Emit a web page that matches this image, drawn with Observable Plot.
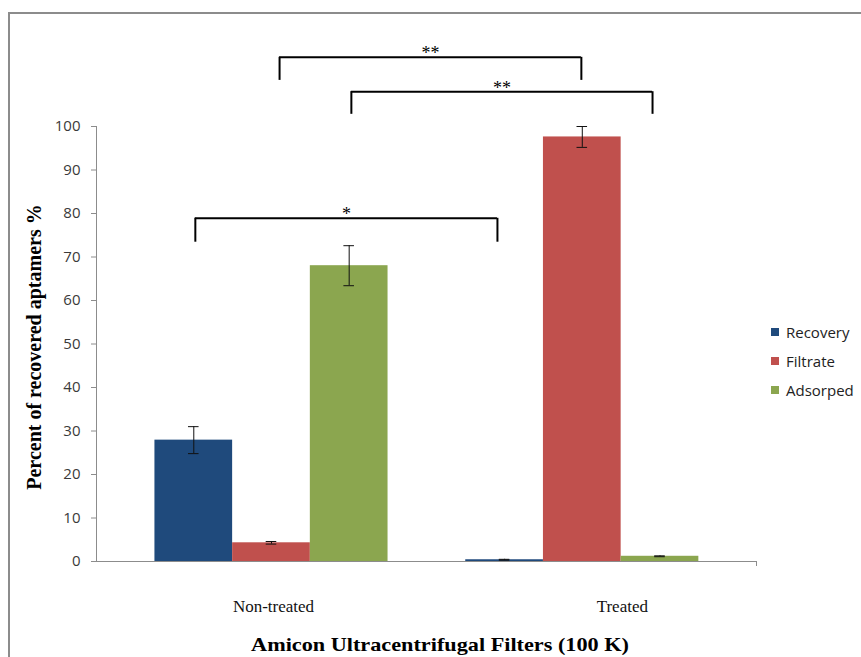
<!DOCTYPE html>
<html><head><meta charset="utf-8">
<script src="https://cdn.jsdelivr.net/npm/d3@7"></script>
<script src="https://cdn.jsdelivr.net/npm/@observablehq/plot@0.6"></script>
<style>
html,body{margin:0;padding:0;background:#fff;}
#wrap{position:relative;width:861px;height:657px;overflow:hidden;background:#fff;}
#chart{position:absolute;left:0;top:0;}
#frame{position:absolute;left:8px;top:12px;width:900px;height:700px;border-left:2px solid #8c8c8c;border-top:2px solid #8c8c8c;pointer-events:none;}
#legend{position:absolute;left:771px;top:318px;font-family:"Open Sans";font-size:15px;color:#222;}
.item{display:flex;align-items:center;height:28.7px;}
.sw{width:8px;height:8px;margin-right:7px;}
.title{position:absolute;font-family:"Liberation Serif";font-weight:bold;color:#000;white-space:nowrap;line-height:1;}
#ytitle{left:34px;top:347px;font-size:20px;transform:translate(-50%,-50%) rotate(-90deg);}
#xtitle{left:440px;top:644px;font-size:19px;transform:translate(-50%,-50%) scaleX(1.17);}
</style></head><body>
<div id="wrap"><div id="chart"></div><div id="frame"></div><div id="legend"></div>
<div id="ytitle" class="title"></div><div id="xtitle" class="title"></div></div>
<script>
// ---- data ----
const categories = ["Non-treated", "Treated"];
const series = ["Recovery", "Filtrate", "Adsorped"];
const colors = ["#1F4A7C", "#C0504D", "#8BA64F"];
const recovery = [27.9, 0.4];
const recoveryErr = [3.1, 0.1];
const filtrate = [4.3, 97.6];
const filtrateErr = [0.3, 2.4];
const adsorped = [68.0, 1.2];
const adsorpedErr = [4.6, 0.1];
const yTicks = [0, 10, 20, 30, 40, 50, 60, 70, 80, 90, 100];
const yTitle = "Percent of recovered aptamers %";
const xTitle = "Amicon Ultracentrifugal Filters (100 K)";
// significance brackets (x in category units, y in percent)
const bracketLeft = [-0.245, 0.026, 0.257];
const bracketRight = [0.727, 0.997, 1.226];
const bracketTop = [78.9, 115.9, 108.0];
const bracketBottom = [73.4, 110.6, 102.8];
const bracketLabels = ["*", "**", "**"];

// ---- build table ----
const values = {Recovery: recovery, Filtrate: filtrate, Adsorped: adsorped};
const errors = {Recovery: recoveryErr, Filtrate: filtrateErr, Adsorped: adsorpedErr};
const barW = 0.25;
const rows = [];
categories.forEach((c, i) => series.forEach((s, j) => rows.push({
  category: c, series: s, ci: i, sj: j, value: values[s][i], err: errors[s][i]
})));
const center = d => d.ci + (d.sj - 1) * barW;
const cap = 0.017;
const brackets = bracketLabels.map((l, i) => ({
  label: l, x1: bracketLeft[i], x2: bracketRight[i], top: bracketTop[i], bottom: bracketBottom[i]
}));
const xDomain = [-0.563, 1.5605];
const axisColor = "#8c8c8c";

const chart = Plot.plot({
  width: 861, height: 657,
  marginLeft: 96, marginRight: 105, marginTop: 126, marginBottom: 96,
  x: {domain: xDomain},
  y: {domain: [0, 100]},
  color: {domain: series, range: colors},
  style: {fontFamily: "Open Sans", fontSize: "14px", background: "transparent"},
  marks: [
    Plot.rect(rows, {x1: d => center(d) - barW / 2, x2: d => center(d) + barW / 2, y1: 0, y2: "value", fill: "series"}),
    Plot.ruleX([xDomain[0]], {y1: 0, y2: 100, stroke: axisColor}),
    Plot.ruleY([0], {x1: xDomain[0], x2: xDomain[1], stroke: axisColor}),
    Plot.ruleX([xDomain[1]], {y1: 0, y2: -1.15, stroke: axisColor}),
    Plot.axisY({ticks: yTicks, tickSize: 5, tickPadding: 11, stroke: axisColor, fill: "#3a3a3a", label: null, fontSize: 15}),
    Plot.axisX({ticks: [0], tickFormat: () => categories[0], tickSize: 0, tickPadding: 38, dx: 2, label: null, fontFamily: "Liberation Serif", fontSize: 17, fill: "#111"}),
    Plot.axisX({ticks: [1], tickFormat: () => categories[1], tickSize: 0, tickPadding: 38, dx: 40, label: null, fontFamily: "Liberation Serif", fontSize: 17, fill: "#111"}),
    // error bars
    Plot.ruleX(rows, {x: center, y1: d => d.value - d.err, y2: d => d.value + d.err, stroke: "#111", strokeWidth: 1}),
    Plot.ruleY(rows, {y: d => d.value + d.err, x1: d => center(d) - cap, x2: d => center(d) + cap, stroke: "#111", strokeWidth: 1}),
    Plot.ruleY(rows, {y: d => d.value - d.err, x1: d => center(d) - cap, x2: d => center(d) + cap, stroke: "#111", strokeWidth: 1}),
    // brackets
    Plot.ruleY(brackets, {y: "top", x1: "x1", x2: "x2", stroke: "#000", strokeWidth: 2}),
    Plot.ruleX(brackets, {x: "x1", y1: "bottom", y2: "top", stroke: "#000", strokeWidth: 2}),
    Plot.ruleX(brackets, {x: "x2", y1: "bottom", y2: "top", stroke: "#000", strokeWidth: 2}),
    Plot.text(brackets, {x: d => (d.x1 + d.x2) / 2, y: "top", text: "label", lineAnchor: "bottom", dy: 2, fontFamily: "Liberation Serif", fontSize: 18, fill: "black"})
  ]
});
document.getElementById("chart").appendChild(chart);
document.getElementById("ytitle").textContent = yTitle;
document.getElementById("xtitle").textContent = xTitle;

const legend = document.getElementById("legend");
series.forEach((s, i) => {
  const item = document.createElement("div");
  item.className = "item";
  const sw = document.createElement("span");
  sw.className = "sw";
  sw.style.background = colors[i];
  const t = document.createElement("span");
  t.textContent = s;
  item.appendChild(sw); item.appendChild(t);
  legend.appendChild(item);
});
</script>
</body></html>
